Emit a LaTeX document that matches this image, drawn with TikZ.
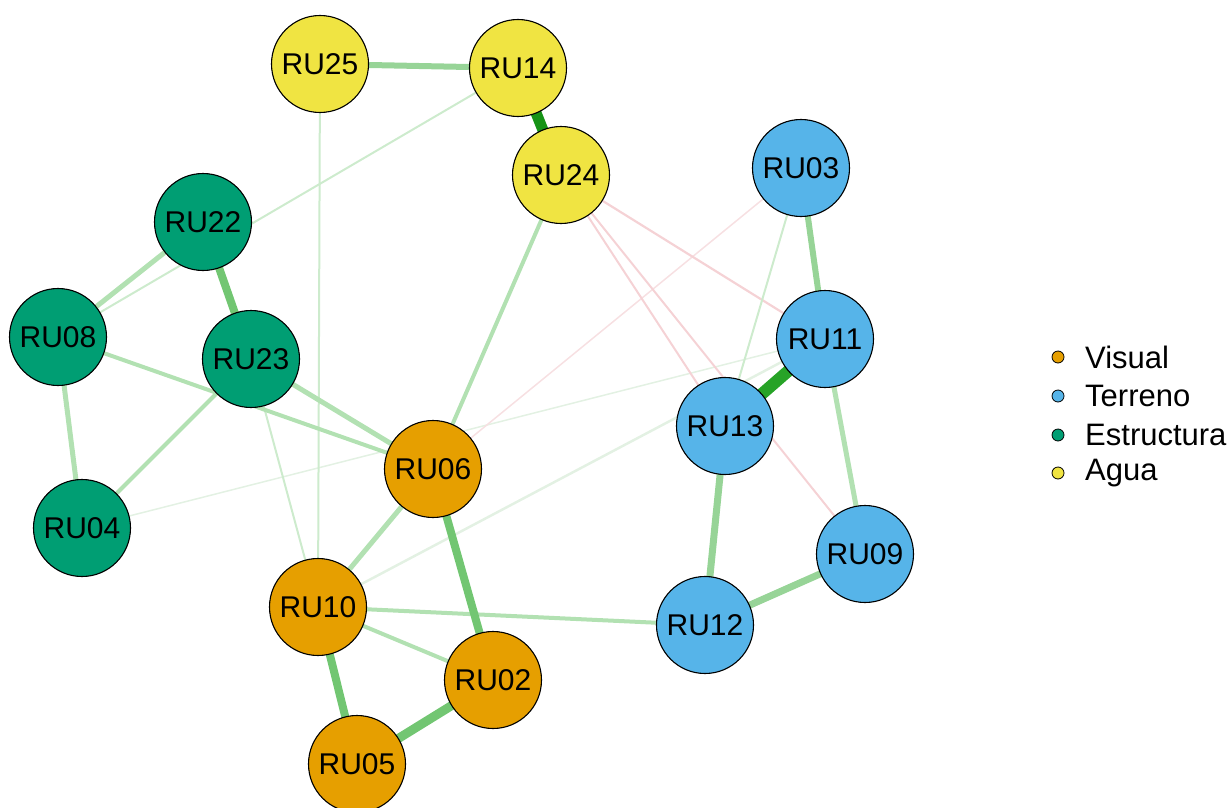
\documentclass[tikz,border=0pt]{standalone}
\usepackage{fontspec}
\setmainfont{Liberation Sans}
\usetikzlibrary{backgrounds}
\definecolor{cVis}{HTML}{E69F00}
\definecolor{cTer}{HTML}{56B4E9}
\definecolor{cEst}{HTML}{009E73}
\definecolor{cAgu}{HTML}{F0E442}
\definecolor{gDark}{HTML}{169316}
\definecolor{gDark2}{HTML}{27A327}
\definecolor{gMed}{HTML}{72C672}
\definecolor{gMl}{HTML}{97D497}
\definecolor{gLight}{HTML}{B2E1B2}
\definecolor{gFaint}{HTML}{CDEBCD}
\definecolor{gVfaint}{HTML}{E3F1E3}
\definecolor{pLight}{HTML}{F5D2D5}
\definecolor{pFaint}{HTML}{F7E0E2}
\tikzset{
  ru/.style={circle, draw=black, line width=1.1pt, minimum size=97pt, inner sep=0pt,
             font=\fontsize{30}{32}\selectfont},
  vis/.style={ru, fill=cVis},
  ter/.style={ru, fill=cTer},
  est/.style={ru, fill=cEst},
  agu/.style={ru, fill=cAgu},
  edge/.style={line cap=butt},
  legdot/.style={circle, draw=black, line width=0.8pt, minimum size=12pt, inner sep=0pt},
  legtxt/.style={anchor=west, inner sep=0pt, font=\fontsize{31}{33}\selectfont}
}
\begin{document}
\begin{tikzpicture}[x=1pt,y=-1pt]
\useasboundingbox (0,0) rectangle (1231,808);
% nodes
\node[agu] (RU25) at (320,64) {RU25};
\node[agu] (RU14) at (518,68) {RU14};
\node[agu] (RU24) at (561,175) {RU24};
\node[ter] (RU03) at (801,168) {RU03};
\node[est] (RU22) at (203,222) {RU22};
\node[est] (RU08) at (58,337) {RU08};
\node[est] (RU23) at (251,359) {RU23};
\node[ter] (RU11) at (825,339) {RU11};
\node[ter] (RU13) at (725,426) {RU13};
\node[vis] (RU06) at (433,469) {RU06};
\node[est] (RU04) at (82,528) {RU04};
\node[ter] (RU09) at (865,554) {RU09};
\node[vis] (RU10) at (318,607) {RU10};
\node[ter] (RU12) at (705,625) {RU12};
\node[vis] (RU02) at (493,680) {RU02};
\node[vis] (RU05) at (357,764) {RU05};
% edges
\begin{scope}[on background layer]
\draw[edge, gVfaint, line width=1.5pt] (RU04.center) -- (RU11.center);
\draw[edge, pFaint, line width=1.5pt] (RU03.center) -- (RU06.center);
\draw[edge, pLight, line width=2.2pt] (RU24.center) -- (RU11.center);
\draw[edge, pLight, line width=2pt] (RU24.center) -- (RU13.center);
\draw[edge, pLight, line width=2pt] (RU24.center) -- (RU09.center);
\draw[edge, gFaint, line width=2pt] (RU08.center) -- (RU14.center);
\draw[edge, gFaint, line width=2pt] (RU25.center) -- (RU10.center);
\draw[edge, gFaint, line width=2pt] (RU23.center) -- (RU10.center);
\draw[edge, gFaint, line width=2pt] (RU03.center) -- (RU13.center);
\draw[edge, gVfaint, line width=2.5pt] (RU10.center) -- (RU11.center);
\draw[edge, gLight, line width=4pt] (RU24.center) -- (RU06.center);
\draw[edge, gLight, line width=4pt] (RU08.center) -- (RU06.center);
\draw[edge, gLight, line width=5pt] (RU23.center) -- (RU06.center);
\draw[edge, gLight, line width=4pt] (RU23.center) -- (RU04.center);
\draw[edge, gLight, line width=5pt] (RU08.center) -- (RU04.center);
\draw[edge, gLight, line width=5pt] (RU22.center) -- (RU08.center);
\draw[edge, gLight, line width=4pt] (RU10.center) -- (RU12.center);
\draw[edge, gLight, line width=5pt] (RU10.center) -- (RU06.center);
\draw[edge, gLight, line width=4pt] (RU10.center) -- (RU02.center);
\draw[edge, gLight, line width=5pt] (RU11.center) -- (RU09.center);
\draw[edge, gMl, line width=6pt] (RU25.center) -- (RU14.center);
\draw[edge, gMl, line width=6pt] (RU03.center) -- (RU11.center);
\draw[edge, gMl, line width=7pt] (RU13.center) -- (RU12.center);
\draw[edge, gMl, line width=7pt] (RU12.center) -- (RU09.center);
\draw[edge, gMed, line width=8pt] (RU22.center) -- (RU23.center);
\draw[edge, gMed, line width=8pt] (RU06.center) -- (RU02.center);
\draw[edge, gMed, line width=8pt] (RU10.center) -- (RU05.center);
\draw[edge, gMed, line width=9pt] (RU05.center) -- (RU02.center);
\draw[edge, gDark, line width=11pt] (RU14.center) -- (RU24.center);
\draw[edge, gDark2, line width=12pt] (RU11.center) -- (RU13.center);
\end{scope}
% legend
\node[legdot, fill=cVis] (dVis) at (1058,357) {};
\node[legdot, fill=cTer] (dTer) at (1058,396) {};
\node[legdot, fill=cEst] (dEst) at (1058,435) {};
\node[legdot, fill=cAgu] (dAgu) at (1058,473) {};
\node[legtxt] (tVis) at (1085,357) {Visual};
\node[legtxt] (tTer) at (1085,396) {Terreno};
\node[legtxt] (tEst) at (1085,435) {Estructura};
\node[legtxt] (tAgu) at (1085,473) {Agua};
\end{tikzpicture}
\end{document}
